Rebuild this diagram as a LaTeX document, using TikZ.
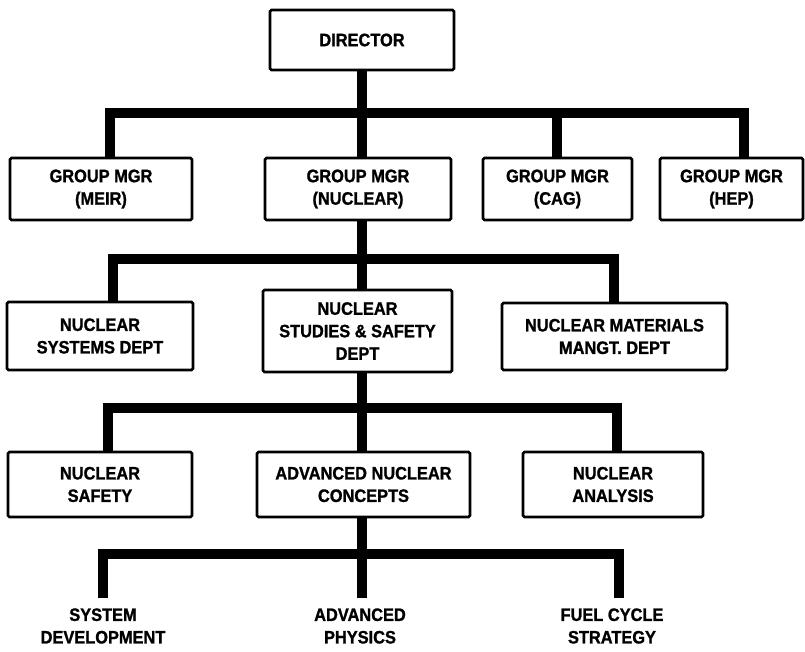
\documentclass[tikz,border=0pt]{standalone}
\usepackage{fontspec}
\setmainfont{Liberation Sans}[FakeStretch=0.91, BoldFeatures={FakeBold=1.2}]
\newcommand\orgfont{\fontsize{18}{22.5}\selectfont\bfseries}
\begin{document}
\begin{tikzpicture}[x=1pt,y=-1pt,
  box/.style={draw, line width=2.6pt, rounded corners=1.5pt, fill=white, inner sep=0pt, align=center, font=\orgfont},
  lbl/.style={inner sep=0pt, align=center, font=\orgfont},
  conn/.style={line width=10pt, line join=miter}]
\useasboundingbox (0,0) rectangle (805,652);
% level 0
\node[box, minimum width=184pt, minimum height=60pt] (dir) at (362,40) {DIRECTOR};
% level 1
\node[box, minimum width=182pt, minimum height=62pt] (g1) at (101,189) {GROUP MGR\\(MEIR)};
\node[box, minimum width=186pt, minimum height=62pt] (g2) at (358,189) {GROUP MGR\\(NUCLEAR)};
\node[box, minimum width=149pt, minimum height=62pt] (g3) at (557.5,189) {GROUP MGR\\(CAG)};
\node[box, minimum width=143pt, minimum height=62pt] (g4) at (731.5,189) {GROUP MGR\\(HEP)};
% level 2
\node[box, minimum width=186pt, minimum height=68pt] (d1) at (100,336) {NUCLEAR\\SYSTEMS DEPT};
\node[box, minimum width=189pt, minimum height=82pt] (d2) at (357.5,331) {NUCLEAR\\STUDIES \& SAFETY\\DEPT};
\node[box, minimum width=225pt, minimum height=67pt] (d3) at (614.5,336.5) {NUCLEAR MATERIALS\\MANGT. DEPT};
% level 3
\node[box, minimum width=184pt, minimum height=65pt] (s1) at (100,484.5) {NUCLEAR\\SAFETY};
\node[box, minimum width=213pt, minimum height=65pt] (s2) at (363.5,484.5) {ADVANCED NUCLEAR\\CONCEPTS};
\node[box, minimum width=180pt, minimum height=65pt] (s3) at (613,484.5) {NUCLEAR\\ANALYSIS};
% level 4 labels
\node[lbl] (t1) at (103,626) {SYSTEM\\DEVELOPMENT};
\node[lbl] (t2) at (360,626) {ADVANCED\\PHYSICS};
\node[lbl] (t3) at (612,626) {FUEL CYCLE\\STRATEGY};
% junctions
\coordinate (j1) at (362,113);
\coordinate (k1) at (110,113);
\coordinate (k3) at (557,113);
\coordinate (k4) at (744,113);
\coordinate (j2) at (362,259);
\coordinate (m1) at (113,259);
\coordinate (m3) at (614,259);
\coordinate (j3) at (362,408);
\coordinate (n1) at (108,408);
\coordinate (n3) at (617,408);
\coordinate (j4) at (362,554);
\coordinate (p1) at (103,554);
\coordinate (p3) at (619,554);
\coordinate (e1) at (103,598);
\coordinate (e2) at (362,598);
\coordinate (e3) at (619,598);
% connectors
\draw[conn] (dir) -- (j1);
\draw[conn] (k1 |- g1.north) -- (k1) -- (k4) -- (k4 |- g4.north);
\draw[conn] (j1) -- (j1 |- g2.north);
\draw[conn] (k3) -- (k3 |- g3.north);
\draw[conn] (j1 |- g2.south) -- (j2);
\draw[conn] (m1 |- d1.north) -- (m1) -- (m3) -- (m3 |- d3.north);
\draw[conn] (j2) -- (j2 |- d2.north);
\draw[conn] (j2 |- d2.south) -- (j3);
\draw[conn] (n1 |- s1.north) -- (n1) -- (n3) -- (n3 |- s3.north);
\draw[conn] (j3) -- (j3 |- s2.north);
\draw[conn] (j3 |- s2.south) -- (j4);
\draw[conn] (e1) -- (p1) -- (p3) -- (e3);
\draw[conn] (j4) -- (e2);
\end{tikzpicture}
\end{document}
